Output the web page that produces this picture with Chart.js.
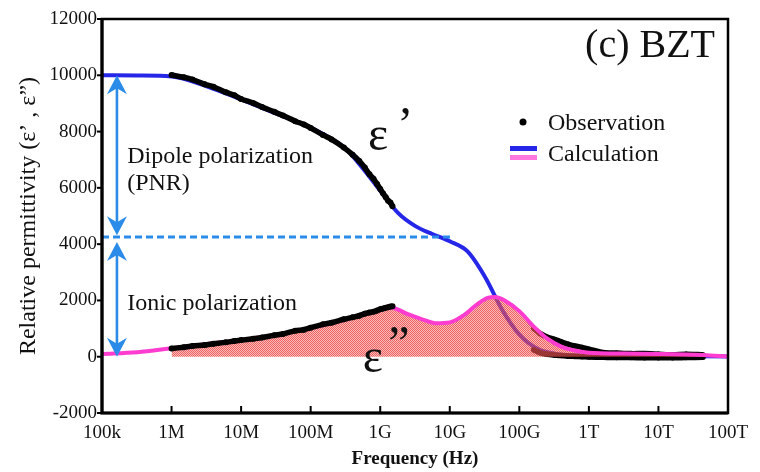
<!DOCTYPE html>
<html>
<head>
<meta charset="utf-8">
<script src="https://cdn.jsdelivr.net/npm/chart.js@4"></script>
<style>
  html, body { margin: 0; padding: 0; background: #fff; }
  #wrap { width: 760px; height: 472px; }
</style>
</head>
<body>
<div id="wrap"><canvas id="c" width="760" height="472"></canvas></div>
<script>
// Frequency axis (Hz), one tick per decade
const freqTicks = [1e5, 1e6, 1e7, 1e8, 1e9, 1e10, 1e11, 1e12, 1e13, 1e14];
const freqTickLabels = ['100k', '1M', '10M', '100M', '1G', '10G', '100G', '1T', '10T', '100T'];

// Calculated real part ε'
const calcFreqReal = [1e5, 3.2e5, 1e6, 3.2e6, 1e7, 3.2e7, 1e8, 3.2e8, 5.6e8, 1e9, 1.8e9, 3.2e9, 5.6e9, 1e10, 1.8e10, 3.2e10, 5.6e10, 1e11, 1.8e11, 3.2e11, 1e12, 1e13, 1e14];
const calcReal     = [10000, 9990, 9960, 9610, 9140, 8640, 8140, 7380, 6700, 5900, 5110, 4640, 4360, 4100, 3740, 2840, 1690, 790, 290, 110, 40, 20, 10];

// Calculated imaginary part ε''
const calcFreqImag = [1e5, 3.2e5, 1e6, 3.2e6, 1e7, 3.2e7, 1e8, 3.2e8, 1e9, 1.4e9, 2.5e9, 4e9, 6.3e9, 1e10, 1.6e10, 2.5e10, 3.5e10, 4.5e10, 6.3e10, 1e11, 1.6e11, 2.5e11, 4e11, 6.3e11, 1e12, 3.2e12, 1e13, 4.4e13, 1e14];
const calcImag     = [100, 160, 300, 450, 590, 780, 1020, 1320, 1660, 1750, 1510, 1330, 1190, 1220, 1480, 1870, 2090, 2120, 1980, 1620, 1080, 650, 360, 220, 140, 110, 100, 60, 0];

// Measured points, 1 MHz – 1.5 GHz
const obsFreqLow = [1e6, 1.5e6, 2e6, 3e6, 4e6, 6e6, 8e6, 1e7, 1.5e7, 2e7, 3e7, 4e7, 6e7, 8e7, 1e8, 1.5e8, 2e8, 3e8, 4e8, 5e8, 6e8, 7e8, 8e8, 9e8, 1e9, 1.1e9, 1.2e9, 1.3e9, 1.4e9, 1.5e9];
const obsRealLow = [10010, 9930, 9850, 9680, 9590, 9400, 9290, 9160, 9010, 8870, 8700, 8570, 8370, 8250, 8130, 7880, 7720, 7430, 7180, 6950, 6720, 6480, 6320, 6140, 5960, 5800, 5670, 5540, 5480, 5350];
const obsImagLow = [290, 340, 380, 420, 460, 510, 560, 590, 640, 680, 760, 810, 920, 960, 1030, 1150, 1210, 1330, 1400, 1460, 1530, 1570, 1600, 1640, 1690, 1710, 1740, 1760, 1780, 1790];

// Measured points, 160 GHz – 44 THz
const obsFreqHigh = [1.6e11, 2e11, 2.5e11, 3.2e11, 4e11, 5e11, 6.3e11, 8e11, 1e12, 1.6e12, 2.5e12, 4e12, 6.3e12, 1e13, 1.6e13, 2.5e13, 4.4e13];
const obsRealHigh = [250, 140, 90, 60, 40, 20, 10, 0, -10, -20, -30, -30, -40, -40, -40, -30, -20];
const obsImagHigh = [1010, 820, 700, 620, 530, 450, 380, 330, 270, 150, 130, 110, 110, 90, 70, 90, 70];

// Polarization guides
const dipoleLevel = 4250;
const dipoleLineFreq = [1e5, 1.1e10];
const arrowFreq = 1.64e5;
const dipoleArrow = [10000, 4320];
const ionicArrow = [4080, 0];
const lossAreaRange = [1e6, 4.4e13];

const SERIF = "'Liberation Serif', 'Times New Roman', 'DejaVu Serif', serif";
const BLUE = '#2626e8';
const PINK = '#ff3cd0';
const GUIDE = '#2a8ce8';

const toPoints = (xs, ys) => xs.map((x, i) => ({ x, y: ys[i] }));

// Red dotted texture for the loss area
function lossPattern() {
  const c = document.createElement('canvas');
  c.width = 2; c.height = 2;
  const g = c.getContext('2d');
  g.fillStyle = 'rgba(232,45,45,0.75)';
  g.fillRect(0, 0, 1, 1); g.fillRect(1, 1, 1, 1);
  g.fillStyle = 'rgba(244,130,130,0.55)';
  g.fillRect(1, 0, 1, 1); g.fillRect(0, 1, 1, 1);
  return document.createElement('canvas').getContext('2d').createPattern(c, 'repeat');
}

const lossPts = toPoints(calcFreqImag, calcImag).filter(p => p.x >= lossAreaRange[0] && p.x <= lossAreaRange[1]);

function arrowHead(ctx, x, tip, dir) {
  const h = 19, w = 10, notch = 13;
  ctx.beginPath();
  ctx.moveTo(x, tip);
  ctx.lineTo(x - w, tip + dir * h);
  ctx.lineTo(x, tip + dir * notch);
  ctx.lineTo(x + w, tip + dir * h);
  ctx.closePath();
  ctx.fill();
}

function doubleArrow(ctx, x, yTop, yBottom) {
  ctx.beginPath();
  ctx.moveTo(x, yTop + 8);
  ctx.lineTo(x, yBottom - 8);
  ctx.stroke();
  arrowHead(ctx, x, yTop, 1);
  arrowHead(ctx, x, yBottom, -1);
}

const decorations = {
  id: 'decorations',
  afterDatasetsDraw(chart) {
    const { ctx, chartArea: a, scales: { x, y } } = chart;
    ctx.save();

    // plot frame
    ctx.strokeStyle = '#000';
    ctx.lineWidth = 2.5;
    ctx.strokeRect(a.left, a.top, a.right - a.left, a.bottom - a.top);
    ctx.lineWidth = 3.2;
    ctx.beginPath();
    ctx.moveTo(a.left, a.top); ctx.lineTo(a.left, a.bottom); ctx.lineTo(a.right, a.bottom);
    ctx.stroke();

    // tick marks: inward on x, outward on y
    ctx.lineWidth = 2;
    freqTicks.forEach(v => {
      const px = x.getPixelForValue(v);
      ctx.beginPath(); ctx.moveTo(px, a.bottom); ctx.lineTo(px, a.bottom - 7); ctx.stroke();
    });
    y.ticks.forEach(t => {
      const py = y.getPixelForValue(t.value);
      ctx.beginPath(); ctx.moveTo(a.left - 5, py); ctx.lineTo(a.left, py); ctx.stroke();
    });

    // polarization arrows
    const ax = x.getPixelForValue(arrowFreq);
    ctx.strokeStyle = GUIDE; ctx.fillStyle = GUIDE; ctx.lineWidth = 2.6;
    doubleArrow(ctx, ax, y.getPixelForValue(dipoleArrow[0]), y.getPixelForValue(dipoleArrow[1]));
    doubleArrow(ctx, ax, y.getPixelForValue(ionicArrow[0]), y.getPixelForValue(ionicArrow[1]));

    // annotations
    ctx.fillStyle = '#111';
    ctx.textAlign = 'left';
    ctx.textBaseline = 'alphabetic';
    ctx.font = `24px ${SERIF}`;
    ctx.fillText('Dipole polarization', x.getPixelForValue(2.3e5), y.getPixelForValue(6880));
    ctx.fillText('(PNR)', x.getPixelForValue(2.3e5), y.getPixelForValue(5920));
    ctx.fillText('Ionic polarization', x.getPixelForValue(2.3e5), y.getPixelForValue(1660));

    ctx.font = `48px ${SERIF}`;
    ctx.fillText('ε', x.getPixelForValue(6.7e8), y.getPixelForValue(7340));
    ctx.fillText('’', x.getPixelForValue(1.75e9), y.getPixelForValue(7700));
    ctx.fillText('ε', x.getPixelForValue(5.6e8), y.getPixelForValue(-540));
    ctx.fillText('”', x.getPixelForValue(1.3e9), y.getPixelForValue(-80));

    // panel label
    ctx.textAlign = 'right';
    ctx.font = `40px ${SERIF}`;
    ctx.fillText('(c) BZT', a.right - 13, a.top + 38);

    // legend
    const lx = a.left + 408;
    ctx.fillStyle = '#000';
    ctx.beginPath(); ctx.arc(lx + 13, a.top + 103, 3.5, 0, Math.PI * 2); ctx.fill();
    ctx.fillStyle = BLUE; ctx.fillRect(lx, a.top + 127, 27, 5);
    ctx.fillStyle = '#ff78e0'; ctx.fillRect(lx, a.top + 136, 27, 5);
    ctx.fillStyle = '#111';
    ctx.textAlign = 'left';
    ctx.font = `24px ${SERIF}`;
    ctx.fillText('Observation', lx + 38, a.top + 111);
    ctx.fillText('Calculation', lx + 38, a.top + 142);

    ctx.restore();
  }
};

Chart.defaults.font.family = SERIF;
Chart.defaults.color = '#111';

const obsStyle = (r) => ({
  borderColor: '#000', borderWidth: 5.5, pointRadius: r, pointBorderWidth: 0,
  pointBackgroundColor: '#000', tension: 0.3
});

new Chart(document.getElementById('c'), {
  type: 'line',
  data: {
    datasets: [
      {
        label: 'Calculation ε′',
        data: toPoints(calcFreqReal, calcReal),
        borderColor: BLUE, borderWidth: 4, pointRadius: 0,
        cubicInterpolationMode: 'monotone', order: 6
      },
      Object.assign({ label: 'Observation ε′ (high)', data: toPoints(obsFreqHigh, obsRealHigh), order: 5 }, obsStyle(2.6)),
      Object.assign({ label: 'Observation ε″ (high)', data: toPoints(obsFreqHigh, obsImagHigh), order: 4 }, obsStyle(2.6)),
      {
        label: 'Loss area',
        data: lossPts,
        borderColor: 'rgba(0,0,0,0)', borderWidth: 1, pointRadius: 0,
        backgroundColor: lossPattern(), fill: 'origin',
        cubicInterpolationMode: 'monotone', order: 3
      },
      {
        label: 'Calculation ε″',
        data: toPoints(calcFreqImag, calcImag),
        borderColor: PINK, borderWidth: 4, pointRadius: 0,
        cubicInterpolationMode: 'monotone', order: 2
      },
      Object.assign({ label: 'Observation ε′', data: toPoints(obsFreqLow, obsRealLow), order: 1 }, obsStyle(3)),
      Object.assign({ label: 'Observation ε″', data: toPoints(obsFreqLow, obsImagLow), order: 1 }, obsStyle(3)),
      {
        label: 'Dipole level',
        data: dipoleLineFreq.map(f => ({ x: f, y: dipoleLevel })),
        borderColor: GUIDE, borderWidth: 3, borderDash: [7, 4], pointRadius: 0, order: 0
      }
    ]
  },
  options: {
    responsive: false,
    animation: false,
    layout: { padding: { top: 19, right: 32, bottom: 0, left: 0 } },
    plugins: { legend: { display: false }, tooltip: { enabled: false } },
    scales: {
      x: {
        type: 'logarithmic',
        min: freqTicks[0], max: freqTicks[freqTicks.length - 1],
        border: { display: false },
        grid: { display: false, drawTicks: false },
        afterBuildTicks(s) { s.ticks = freqTicks.map(v => ({ value: v })); },
        ticks: {
          autoSkip: false, maxRotation: 0, padding: 9,
          font: { family: SERIF, size: 19 },
          callback: (v, i) => freqTickLabels[i]
        },
        title: {
          display: true, text: 'Frequency (Hz)',
          font: { family: SERIF, size: 19, weight: 'bold' },
          padding: { top: 0, bottom: 2 }
        },
        afterFit(s) { s.height = 59; }
      },
      y: {
        min: -2000, max: 12000,
        border: { display: false },
        grid: { display: false, drawTicks: false },
        ticks: { stepSize: 2000, padding: 5, font: { family: SERIF, size: 19 }, callback: v => String(v) },
        title: {
          display: true, text: 'Relative permittivity (ε’ , ε”)',
          font: { family: SERIF, size: 24 },
          padding: { top: 14, bottom: 0 }
        },
        afterFit(s) { s.width = 102; }
      }
    }
  },
  plugins: [decorations]
});
</script>
</body>
</html>
